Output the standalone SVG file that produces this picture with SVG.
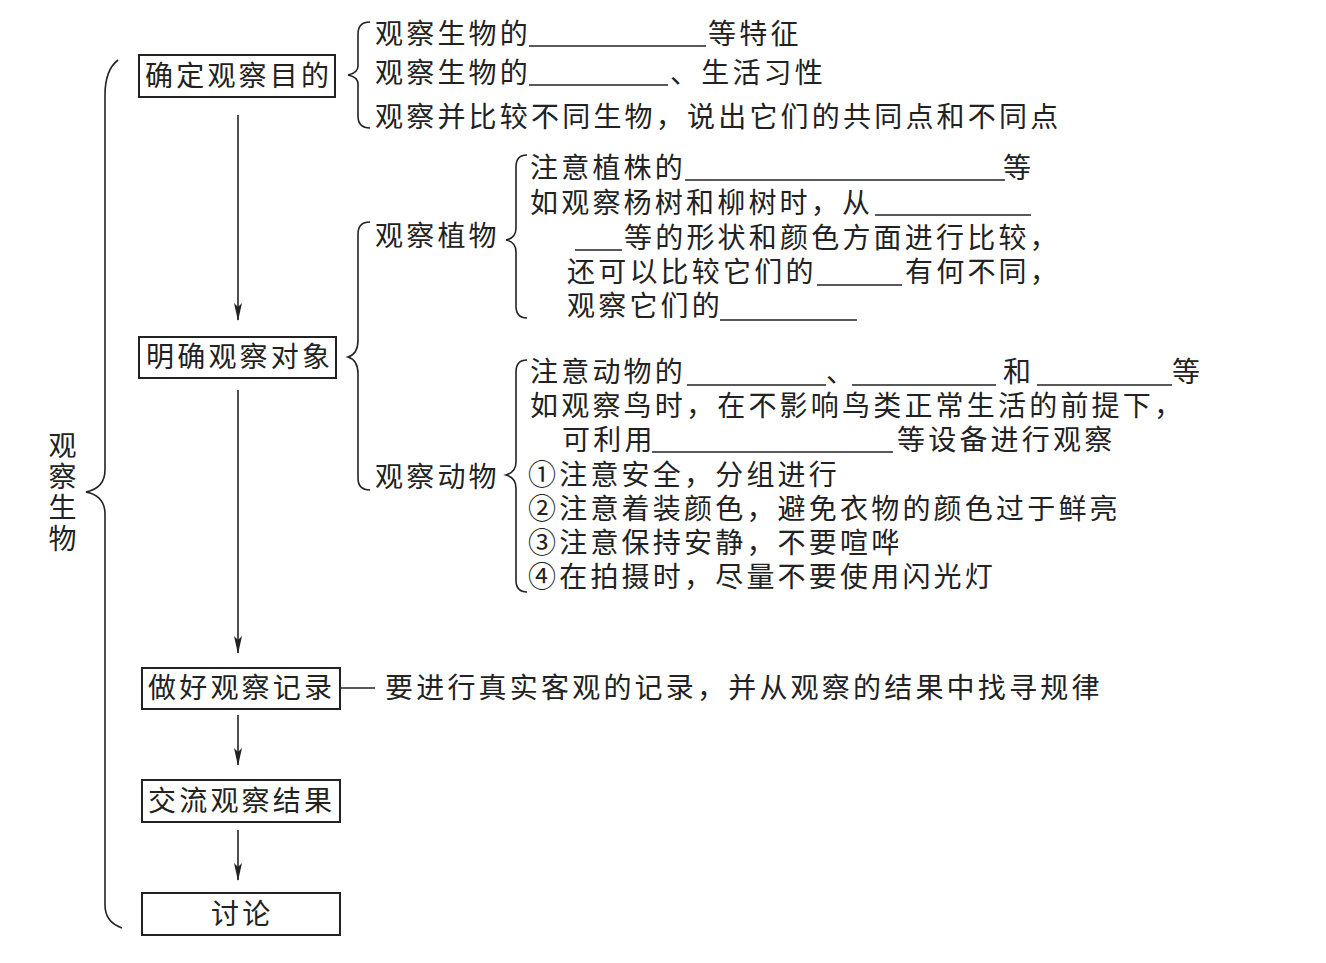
<svg xmlns="http://www.w3.org/2000/svg" width="1326" height="963" viewBox="0 0 1326 963">
<style>
text{font-family:"Liberation Sans","Noto Sans CJK SC","Noto Sans CJK TC",sans-serif;font-size:28px;fill:#222;letter-spacing:3.2px}
.box{fill:#fff;stroke:#222;stroke-width:2}
.ln{fill:none;stroke:#222;stroke-width:1.6}
.ul{stroke:#222;stroke-width:1.6}
.br{fill:none;stroke:#222;stroke-width:1.6}
</style>
<defs>
<marker id="arr" markerWidth="18" markerHeight="10" refX="17" refY="5" orient="auto" markerUnits="userSpaceOnUse" viewBox="0 0 18 10">
<path d="M0,1 L18,5 L0,9 L4,5 Z" fill="#222"/>
</marker>
</defs>
<rect width="1326" height="963" fill="#fff"/>

<g id="connectors">
<line class="ln" x1="238" y1="115" x2="238" y2="320" marker-end="url(#arr)"/>
<line class="ln" x1="238" y1="390" x2="238" y2="653" marker-end="url(#arr)"/>
<line class="ln" x1="238" y1="715" x2="238" y2="765" marker-end="url(#arr)"/>
<line class="ln" x1="238" y1="830" x2="238" y2="880" marker-end="url(#arr)"/>
<line class="ln" x1="340" y1="688" x2="375" y2="688"/>
</g>

<g id="braces">
<path class="br" d="M118 60 Q105 70 105 95 L105 470 Q105 488 86 492 Q105 496 105 514 L105 905 Q105 922 122 928"/>
<path class="br" d="M370 22 Q358 22 358 34 L358 66 Q358 73 348 75 Q358 77 358 84 L358 116 Q358 128 370 128"/>
<path class="br" d="M370 222 Q358 222 358 234 L358 340 Q358 354 348 357 Q358 360 358 374 L358 478 Q358 490 370 490"/>
<path class="br" d="M527 155 Q516 155 516 167 L516 228 Q516 238 506 240 Q516 242 516 252 L516 306 Q516 318 527 318"/>
<path class="br" d="M527 360 Q516 360 516 372 L516 462 Q516 472 506 475 Q516 478 516 488 L516 580 Q516 592 527 592"/>
</g>

<g id="root">
<text x="60" y="431" style="writing-mode:vertical-rl" letter-spacing="4.5">观察生物</text>
</g>

<g id="n1">
<rect class="box" x="139" y="55" width="196" height="42"/>
<text x="145" y="86">确定观察目的</text>
</g>
<g id="n1-items">
<text x="375" y="44">观察生物的</text><line class="ul" x1="529" y1="46" x2="706" y2="46"/><text x="708" y="44">等特征</text>
<text x="375" y="83">观察生物的</text><line class="ul" x1="529" y1="85" x2="668" y2="85"/><text x="670" y="83">、生活习性</text>
<text x="375" y="127">观察并比较不同生物，说出它们的共同点和不同点</text>
</g>

<g id="n2">
<rect class="box" x="139" y="337" width="197" height="41"/>
<text x="146" y="367">明确观察对象</text>
</g>

<g id="plant">
<text x="375" y="246">观察植物</text>
<text x="530" y="178">注意植株的</text><line class="ul" x1="685" y1="180" x2="1005" y2="180"/><text x="1003" y="178">等</text>
<text x="530" y="213">如观察杨树和柳树时，从</text><line class="ul" x1="875" y1="215" x2="1031" y2="215"/>
<line class="ul" x1="575" y1="250" x2="622" y2="250"/><text x="624" y="248">等的形状和颜色方面进行比较，</text>
<text x="567" y="282">还可以比较它们的</text><line class="ul" x1="817" y1="285" x2="902" y2="285"/><text x="905" y="282">有何不同，</text>
<text x="567" y="316">观察它们的</text><line class="ul" x1="720" y1="320" x2="857" y2="320"/>
</g>

<g id="animal">
<text x="375" y="487">观察动物</text>
<text x="530" y="382">注意动物的</text><line class="ul" x1="687" y1="385" x2="826" y2="385"/><text x="826" y="382">、</text><line class="ul" x1="852" y1="385" x2="996" y2="385"/><text x="1003" y="382">和</text><line class="ul" x1="1037" y1="385" x2="1172" y2="385"/><text x="1172" y="382">等</text>
<text x="530" y="416">如观察鸟时，在不影响鸟类正常生活的前提下，</text>
<text x="562" y="450">可利用</text><line class="ul" x1="652" y1="452" x2="893" y2="452"/><text x="897" y="450">等设备进行观察</text>
<text x="528" y="485">①注意安全，分组进行</text>
<text x="528" y="519">②注意着装颜色，避免衣物的颜色过于鲜亮</text>
<text x="528" y="553">③注意保持安静，不要喧哗</text>
<text x="528" y="587">④在拍摄时，尽量不要使用闪光灯</text>
</g>

<g id="n3">
<rect class="box" x="142" y="668" width="198" height="41"/>
<text x="148" y="698">做好观察记录</text>
</g>
<g id="n3-note">
<text x="385" y="698">要进行真实客观的记录，并从观察的结果中找寻规律</text>
</g>

<g id="n4">
<rect class="box" x="142" y="780" width="198" height="42"/>
<text x="148" y="811">交流观察结果</text>
</g>

<g id="n5">
<rect class="box" x="142" y="893" width="198" height="42"/>
<text x="211" y="924">讨论</text>
</g>
</svg>
